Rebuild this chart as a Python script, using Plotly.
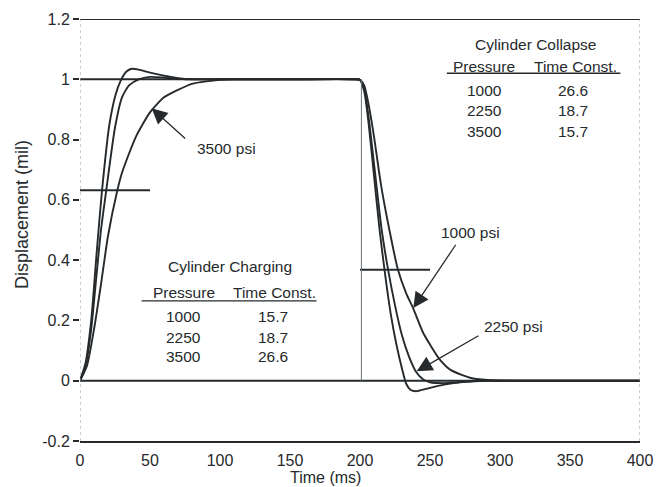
import plotly.graph_objects as go

# Step response of the actuator cylinder: charging at t=0, collapse at t=200 ms
t_1000 = [0, 4, 8, 12, 15.7, 21, 25.5, 29, 33, 37, 42, 50, 60, 70, 80, 100, 150, 196, 200,
          203, 206, 210, 215, 221, 227, 233, 238, 245, 250, 257, 265, 280, 300, 350, 400]
v_1000 = [0, 0.06, 0.2, 0.43, 0.63, 0.85, 0.95, 0.995, 1.025, 1.035, 1.032, 1.022, 1.012, 1.004, 1.0, 1.0, 1.0, 1.0, 0.998,
          0.98, 0.92, 0.81, 0.65, 0.5, 0.37, 0.29, 0.24, 0.16, 0.12, 0.07, 0.035, 0.008, 0.0, 0.0, 0.0]

t_2250 = [0, 4, 8, 12, 15, 18.7, 25, 30, 35, 42, 50, 60, 75, 100, 150, 196, 200,
          203, 206, 210, 215.5, 220, 225, 230, 235, 240, 245, 250, 260, 270, 285, 350, 400]
v_2250 = [0, 0.05, 0.17, 0.36, 0.5, 0.63, 0.84, 0.94, 0.98, 1.0, 1.008, 1.006, 1.0, 1.0, 1.0, 1.0, 0.998,
          0.97, 0.88, 0.72, 0.5, 0.37, 0.25, 0.15, 0.08, 0.03, 0.005, -0.005, -0.008, -0.005, 0.0, 0.0, 0.0]

t_3500 = [0, 5, 10, 15, 20, 26.6, 30, 40, 50, 60, 70, 80, 90, 100, 110, 150, 196, 200,
          203, 206, 210, 214, 218, 222, 226, 230, 233, 236, 240, 248, 260, 275, 290, 350, 400]
v_3500 = [0, 0.05, 0.17, 0.32, 0.48, 0.63, 0.69, 0.81, 0.89, 0.94, 0.965, 0.985, 0.993, 0.998, 1.0, 1.0, 1.0, 0.998,
          0.96, 0.86, 0.68, 0.5, 0.35, 0.22, 0.12, 0.04, -0.01, -0.03, -0.035, -0.026, -0.013, -0.004, 0.0, 0.0, 0.0]

pressures = ["1000", "2250", "3500"]
charging_tc = ["15.7", "18.7", "26.6"]
collapse_tc = ["26.6", "18.7", "15.7"]

y_ticks = [-0.2, 0, 0.2, 0.4, 0.6, 0.8, 1, 1.2]
y_ticktext = ["-0.2", "0", "0.2", "0.4", "0.6", "0.8", "1", "1.2"]
x_ticks = [0, 50, 100, 150, 200, 250, 300, 350, 400]

INK = "#262a2c"
FONT = "Liberation Sans, Arial, Helvetica, sans-serif"

fig = go.Figure()
for t, v in [(t_1000, v_1000), (t_2250, v_2250), (t_3500, v_3500)]:
    fig.add_trace(go.Scatter(x=t, y=v, mode="lines",
                             line=dict(color=INK, width=1.9, shape="spline", smoothing=0.6),
                             showlegend=False, hoverinfo="skip"))

# reference lines
ref = dict(color=INK, width=1.9)
fig.add_shape(type="line", x0=0, x1=400, y0=1.2, y1=1.2, line=ref)
fig.add_shape(type="line", x0=0, x1=400, y0=0, y1=0, line=ref)
fig.add_shape(type="line", x0=0, x1=200, y0=1, y1=1, line=ref)
fig.add_shape(type="line", x0=0, x1=50, y0=0.632, y1=0.632, line=ref)
fig.add_shape(type="line", x0=200, x1=250, y0=0.368, y1=0.368, line=ref)
fig.add_shape(type="line", x0=201, x1=201, y0=0, y1=1, line=dict(color="#6a7376", width=1))
for xv in [0, 400]:
    fig.add_shape(type="line", x0=xv, x1=xv, y0=-0.2, y1=1.2,
                  line=dict(color="#9aa3a6", width=1, dash="dot"))

# underlines of the two tables
fig.add_shape(type="line", x0=262, x1=386, y0=1.02, y1=1.02, line=dict(color=INK, width=1.3))
fig.add_shape(type="line", x0=44, x1=169, y0=0.265, y1=0.265, line=dict(color=INK, width=1.3))

def txt(x, y, s, size=15.5):
    fig.add_annotation(x=x, y=y, text=s, showarrow=False, xref="x", yref="y",
                       font=dict(family=FONT, size=size, color=INK))

# Cylinder Collapse table
txt(325, 1.117, "Cylinder Collapse")
txt(288.6, 1.042, "Pressure")
txt(353.6, 1.042, "Time Const.")
for i, (p, tc) in enumerate(zip(pressures, collapse_tc)):
    y = [0.963, 0.896, 0.828][i]
    txt(289, y, p)
    txt(352.4, y, tc)

# Cylinder Charging table
txt(107, 0.379, "Cylinder Charging")
txt(74.4, 0.294, "Pressure")
txt(138.6, 0.294, "Time Const.")
for i, (p, tc) in enumerate(zip(pressures, charging_tc)):
    y = [0.213, 0.145, 0.079][i]
    txt(73.8, y, p)
    txt(138, y, tc)

# pressure callouts
txt(104.8, 0.771, "3500 psi")
txt(278.6, 0.492, "1000 psi")
txt(309.3, 0.18, "2250 psi")
for (x, y, ax, ay) in [(51.2, 0.904, 76.2, 0.799),
                       (238.1, 0.241, 269.1, 0.456),
                       (240.5, 0.031, 285.7, 0.152)]:
    fig.add_annotation(x=x, y=y, ax=ax, ay=ay, xref="x", yref="y", axref="x", ayref="y",
                       text="", showarrow=True, arrowhead=2, arrowsize=2.4, arrowwidth=1.3,
                       arrowcolor=INK, standoff=0)

# axis titles
fig.add_annotation(x=175, y=-0.2, xref="x", yref="y", yshift=-36, text="Time (ms)",
                   showarrow=False, font=dict(family=FONT, size=16, color=INK))
fig.add_annotation(x=0, y=0.55, xref="x", yref="y", xshift=-58, text="Displacement (mil)",
                   textangle=-90, showarrow=False, font=dict(family=FONT, size=18, color=INK))

fig.update_xaxes(range=[0, 400], tickvals=x_ticks, showgrid=False, zeroline=False,
                 showline=True, linecolor=INK, linewidth=1.9, automargin=False,
                 ticks="outside", ticklen=4, tickcolor="rgba(0,0,0,0)",
                 tickfont=dict(family=FONT, size=16, color=INK))
fig.update_yaxes(range=[-0.2, 1.2], tickvals=y_ticks, ticktext=y_ticktext, showgrid=False,
                 zeroline=False, showline=False, ticks="outside", ticklen=6, tickwidth=1.5,
                 automargin=False, tickcolor=INK, tickfont=dict(family=FONT, size=16, color=INK))

fig.update_layout(width=659, height=487, margin=dict(l=80, r=19, t=19, b=46),
                  plot_bgcolor="white", paper_bgcolor="white")

fig.write_html("out.html")
